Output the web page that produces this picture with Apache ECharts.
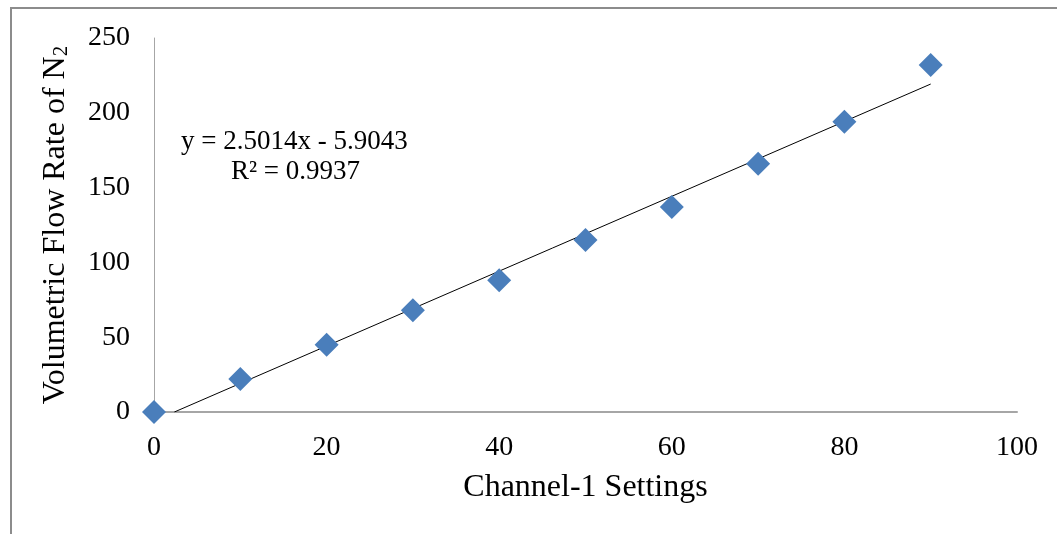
<!DOCTYPE html>
<html>
<head>
<meta charset="utf-8">
<script src="https://cdn.jsdelivr.net/npm/echarts@6/dist/echarts.min.js"></script>
<style>
html,body{margin:0;padding:0;background:#fff;}
#chart{width:1057px;height:534px;}
</style>
</head>
<body>
<div id="chart"></div>
<script>
// Data
const xSettings = [0, 10, 20, 30, 40, 50, 60, 70, 80, 90];
const flowRates = [0, 22, 45, 68, 88, 115, 137, 166, 194, 232];
// Linear trendline as printed on the chart
const trendSlope = 2.5014;
const trendIntercept = -5.9043;
const trendXRange = [2.36, 90];
const equationLines = ['y = 2.5014x - 5.9043', 'R² = 0.9937'];

const scatterData = xSettings.map((x, i) => [x, flowRates[i]]);
const trendData = trendXRange.map(x => [x, trendSlope * x + trendIntercept]);

const FONT = '"Liberation Serif", "DejaVu Serif", serif';
const chart = echarts.init(document.getElementById('chart'));
chart.setOption({
  backgroundColor: '#fff',
  animation: false,
  grid: { left: 154, right: 40, top: 38, bottom: 122, containLabel: false },
  graphic: [
    { type: 'rect', shape: { x: 11, y: 8, width: 1100, height: 600 },
      style: { fill: 'none', stroke: '#8c8c8c', lineWidth: 2 }, z: -1 },
    { type: 'text', left: 181, top: 128,
      style: { text: equationLines[0], font: '27px ' + FONT, fill: '#000' } },
    { type: 'text', left: 231, top: 158,
      style: { text: equationLines[1], font: '27px ' + FONT, fill: '#000' } }
  ],
  xAxis: {
    type: 'value', min: 0, max: 100, interval: 20,
    name: 'Channel-1 Settings', nameLocation: 'middle', nameGap: 60,
    nameTextStyle: { fontFamily: FONT, fontSize: 32, color: '#000' },
    axisLine: { show: true, lineStyle: { color: '#a6a6a6', width: 2 } },
    axisTick: { show: false },
    splitLine: { show: false },
    axisLabel: { fontFamily: FONT, fontSize: 28, color: '#000', margin: 22 }
  },
  yAxis: {
    type: 'value', min: 0, max: 250, interval: 50,
    name: 'Volumetric Flow Rate of N{sub|2}', nameLocation: 'middle', nameGap: 82,
    nameTextStyle: { fontFamily: FONT, fontSize: 32, color: '#000',
      rich: { sub: { fontFamily: FONT, fontSize: 21, color: '#000', verticalAlign: 'bottom', padding: [12, 0, 0, 0] } } },
    axisLine: { show: true, lineStyle: { color: '#a6a6a6', width: 1 } },
    axisTick: { show: false },
    splitLine: { show: false },
    axisLabel: { fontFamily: FONT, fontSize: 28, color: '#000', margin: 24 }
  },
  series: [
    { type: 'line', data: trendData, symbol: 'none',
      lineStyle: { color: '#000', width: 1 }, z: 2, silent: true },
    { type: 'scatter', data: scatterData, symbol: 'diamond', symbolSize: [24, 24],
      itemStyle: { color: '#4a7ebb', opacity: 1 }, z: 3, clip: false }
  ]
});
</script>
</body>
</html>
